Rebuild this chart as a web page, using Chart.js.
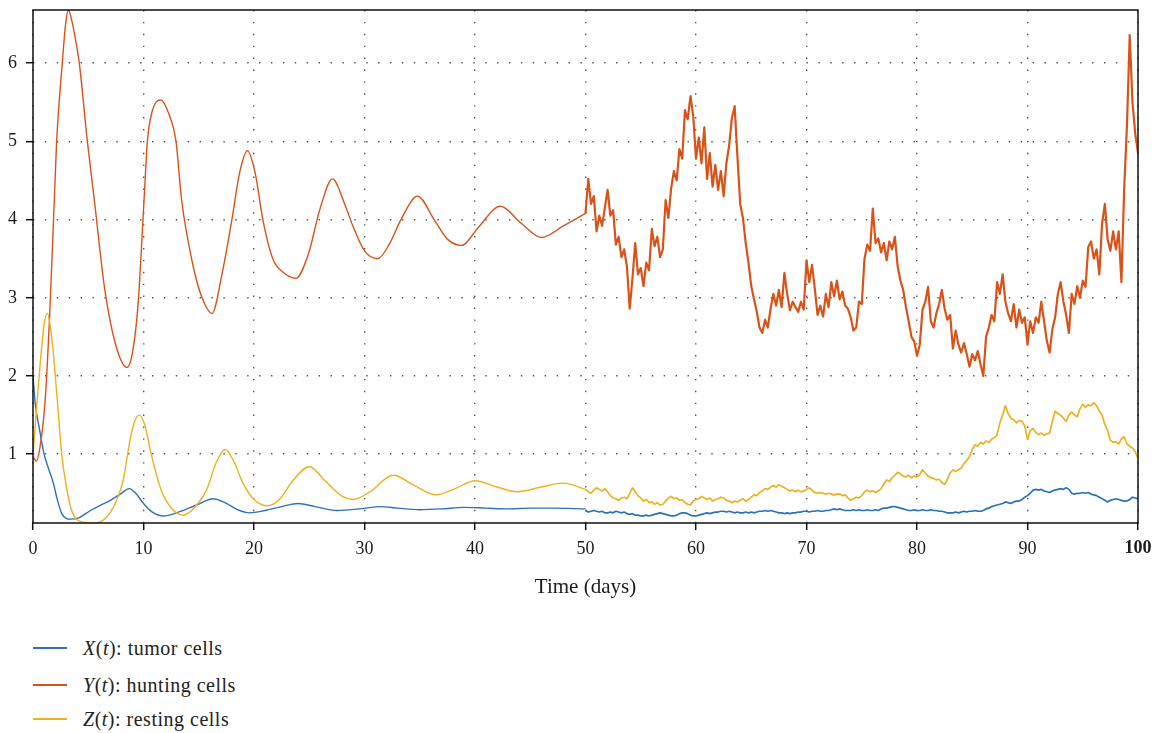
<!DOCTYPE html>
<html>
<head>
<meta charset="utf-8">
<script src="https://cdn.jsdelivr.net/npm/chart.js@4.4.1/dist/chart.umd.min.js"></script>
<style>
  html, body { margin: 0; padding: 0; background: #fff; }
  #wrap { position: relative; width: 1159px; height: 733px; overflow: hidden; }
  #plot { position: absolute; left: 0; top: 0; }
  .leg { position: absolute; left: 0; height: 24px; line-height: 24px;
         font-family: "Liberation Serif", serif; font-size: 20px; letter-spacing: 0.5px; color: #222; }
  .leg .sw { position: absolute; left: 33px; top: 11px; width: 34px; height: 1.5px; }
  .leg .tx { position: absolute; left: 83px; top: 0; white-space: nowrap; }
</style>
</head>
<body>
<div id="wrap">
  <canvas id="plot" width="1159" height="600"></canvas>
  <div class="leg" style="top:636px"><span class="sw" style="background:#2C72BA"></span><span class="tx"><i>X</i>(<i>t</i>): tumor cells</span></div>
  <div class="leg" style="top:673px"><span class="sw" style="background:#D95319"></span><span class="tx"><i>Y</i>(<i>t</i>): hunting cells</span></div>
  <div class="leg" style="top:707px"><span class="sw" style="background:#EDB120"></span><span class="tx"><i>Z</i>(<i>t</i>): resting cells</span></div>
</div>
<script>
// Deterministic phase (days 0-50): sample times and values per population
const tX = [0,0.2,0.6,1.0,1.4,1.84,2.2,2.6,3.0,3.4,4.2,5.2,6.0,7.0,8.0,8.7,9.3,10.0,10.8,11.8,
            13.0,14.8,16.3,17.5,18.5,19.6,21.0,22.5,24.0,25.5,27.5,29.5,31.5,33.0,35.0,37.0,39.0,41.0,43.0,45.0,47.0,50.0];
const X  = [2.0,1.65,1.31,1.0,0.82,0.63,0.42,0.24,0.18,0.17,0.19,0.28,0.34,0.41,0.5,0.56,0.5,0.37,0.26,0.21,
            0.25,0.35,0.43,0.37,0.29,0.25,0.28,0.33,0.37,0.33,0.28,0.30,0.33,0.31,0.29,0.30,0.32,0.31,0.30,0.31,0.31,0.30];

const tY = [0,0.3,0.7,1.1,1.5,1.93,2.14,2.65,2.95,3.2,3.5,3.85,4.19,4.92,5.55,6.5,7.5,8.5,9.0,9.5,
            10.05,10.35,10.74,11.55,12.3,12.94,13.45,14.5,15.3,16.2,17.1,18.0,18.7,19.4,20.1,20.8,21.7,22.6,23.8,24.9,
            26.0,27.1,28.2,29.0,30.0,31.2,32.3,33.3,34.8,36.3,37.5,38.8,40.3,42.3,44.2,46.0,48.0,50.0];
const Y  = [0.97,0.91,1.15,1.69,2.75,4.25,5.0,6.0,6.5,6.68,6.55,6.3,6.0,5.0,4.25,3.1,2.39,2.11,2.3,2.9,
            4.25,5.0,5.36,5.53,5.35,5.0,4.25,3.4,3.0,2.8,3.3,4.0,4.6,4.88,4.6,4.0,3.5,3.33,3.25,3.55,
            4.15,4.52,4.2,3.9,3.6,3.5,3.7,4.0,4.3,4.0,3.75,3.67,3.9,4.17,3.95,3.77,3.92,4.08];

const tZ = [0,0.5,1.0,1.3,1.6,1.9,2.2,2.6,3.0,3.5,4.55,5.5,6.3,6.97,7.6,8.17,8.78,9.2,9.62,10.1,
            10.7,11.6,12.6,13.6,14.7,15.7,16.6,17.4,18.2,19.0,20.0,21.2,22.3,23.5,25.0,26.5,28.0,29.0,30.5,32.6,
            34.5,36.5,38.2,40.0,42.0,43.8,46.0,48.0,50.0];
const Z  = [1.0,1.9,2.65,2.8,2.6,2.2,1.69,1.0,0.6,0.28,0.13,0.12,0.15,0.25,0.42,0.67,1.18,1.42,1.50,1.38,
            1.0,0.54,0.3,0.22,0.33,0.54,0.9,1.06,0.9,0.63,0.42,0.34,0.42,0.66,0.84,0.65,0.46,0.42,0.52,0.73,
            0.6,0.48,0.56,0.66,0.58,0.52,0.58,0.63,0.55];

// Stochastic phase (days 50-100), sampled every quarter day; one row per five days
const noiseStart = 50, noiseStep = 0.25;
const Xs = [
  0.28,0.26,0.27,0.28, 0.27,0.26,0.27,0.25, 0.25,0.26,0.25,0.27, 0.26,0.25,0.26,0.24, 0.23,0.24,0.22,0.22,
  0.21,0.21,0.22,0.21, 0.22,0.23,0.24,0.25, 0.24,0.23,0.22,0.21, 0.21,0.22,0.24,0.25, 0.25,0.24,0.22,0.21,
  0.21,0.22,0.23,0.24, 0.25,0.24,0.25,0.26, 0.26,0.27,0.27,0.26, 0.27,0.26,0.25,0.26, 0.25,0.25,0.26,0.25,
  0.26,0.25,0.26,0.27, 0.27,0.28,0.27,0.28, 0.27,0.26,0.25,0.25, 0.24,0.25,0.24,0.25, 0.25,0.26,0.26,0.27,
  0.27,0.26,0.27,0.27, 0.28,0.27,0.27,0.28, 0.28,0.29,0.30,0.29, 0.30,0.29,0.28,0.28, 0.28,0.29,0.28,0.29,
  0.28,0.28,0.29,0.28, 0.28,0.29,0.28,0.30, 0.31,0.31,0.32,0.33, 0.33,0.32,0.31,0.30, 0.29,0.28,0.28,0.29,
  0.28,0.28,0.29,0.28, 0.28,0.29,0.28,0.28, 0.27,0.27,0.26,0.25, 0.25,0.25,0.26,0.25, 0.26,0.27,0.26,0.27,
  0.27,0.28,0.27,0.27, 0.28,0.30,0.31,0.33, 0.34,0.35,0.36,0.37, 0.39,0.38,0.37,0.39, 0.40,0.40,0.42,0.45,
  0.47,0.50,0.54,0.55, 0.54,0.55,0.53,0.52, 0.51,0.53,0.54,0.55, 0.56,0.55,0.57,0.55, 0.50,0.49,0.50,0.50,
  0.51,0.50,0.51,0.49, 0.48,0.47,0.45,0.43, 0.41,0.39,0.41,0.42, 0.43,0.42,0.41,0.40, 0.40,0.42,0.45,0.44,
  0.43
];
const Ys = [
  4.08,4.52,4.20,4.30, 3.85,4.05,3.92,4.15, 4.38,4.05,4.12,3.68, 3.78,3.52,3.62,3.40, 2.86,3.25,3.70,3.30,
  3.38,3.15,3.45,3.35, 3.88,3.66,3.78,3.52, 3.62,4.25,4.02,4.40, 4.62,4.50,4.90,4.78, 5.40,5.28,5.58,5.32,
  4.78,5.05,4.72,5.18, 4.52,4.85,4.42,4.70, 4.38,4.62,4.30,4.72, 4.95,5.30,5.45,4.80, 4.20,4.02,3.70,3.45,
  3.15,2.98,2.82,2.62, 2.55,2.72,2.62,2.86, 3.05,2.90,3.10,2.88, 3.32,3.05,2.84,2.95, 2.88,2.82,2.95,2.85,
  3.48,3.20,3.42,3.12, 2.78,2.90,2.76,3.05, 2.88,3.20,3.02,3.22, 2.98,3.08,2.90,2.86, 2.75,2.58,2.62,2.95,
  2.92,3.50,3.68,3.60, 4.14,3.70,3.76,3.58, 3.70,3.48,3.72,3.62, 3.78,3.40,3.22,3.10, 2.88,2.70,2.50,2.44,
  2.26,2.40,2.85,2.95, 3.14,2.70,2.62,2.80, 2.92,3.10,2.86,2.72, 2.78,2.35,2.58,2.40, 2.30,2.42,2.28,2.12,
  2.28,2.20,2.32,2.15, 2.00,2.50,2.62,2.78, 2.70,3.20,3.05,3.30, 2.95,2.80,2.70,2.92, 2.62,2.85,2.68,2.75,
  2.40,2.70,2.55,2.75, 2.68,2.95,2.70,2.45, 2.30,2.60,2.75,3.05, 3.20,2.95,2.78,2.55, 3.05,2.92,3.15,3.00,
  3.22,3.14,3.65,3.72, 3.50,3.62,3.30,3.95, 4.20,3.75,3.60,3.85, 3.62,3.85,3.20,4.40, 5.20,6.36,5.50,5.10,
  4.85
];
const Zs = [
  0.55,0.52,0.50,0.54, 0.57,0.55,0.53,0.56, 0.52,0.47,0.44,0.43, 0.41,0.44,0.45,0.43, 0.50,0.57,0.52,0.47,
  0.44,0.40,0.42,0.38, 0.39,0.36,0.38,0.35, 0.36,0.40,0.44,0.46, 0.43,0.44,0.41,0.42, 0.38,0.36,0.35,0.40,
  0.42,0.43,0.46,0.44, 0.42,0.44,0.40,0.42, 0.43,0.45,0.44,0.41, 0.40,0.38,0.40,0.39, 0.41,0.43,0.40,0.42,
  0.45,0.48,0.47,0.51, 0.53,0.56,0.55,0.58, 0.60,0.58,0.61,0.59, 0.57,0.55,0.53,0.54, 0.52,0.54,0.52,0.53,
  0.55,0.57,0.54,0.51, 0.50,0.51,0.50,0.49, 0.50,0.49,0.48,0.49, 0.49,0.47,0.48,0.44, 0.41,0.43,0.45,0.44,
  0.47,0.52,0.54,0.52, 0.53,0.51,0.53,0.56, 0.62,0.67,0.65,0.70, 0.73,0.77,0.75,0.72, 0.71,0.73,0.70,0.72,
  0.71,0.74,0.80,0.76, 0.72,0.70,0.69,0.67, 0.68,0.64,0.61,0.68, 0.76,0.80,0.78,0.80, 0.82,0.88,0.92,0.97,
  1.06,1.12,1.10,1.15, 1.13,1.17,1.15,1.19, 1.21,1.25,1.40,1.50, 1.62,1.52,1.46,1.44, 1.40,1.43,1.42,1.36,
  1.19,1.30,1.33,1.28, 1.25,1.27,1.24,1.26, 1.27,1.42,1.55,1.52, 1.50,1.46,1.42,1.50, 1.54,1.50,1.48,1.58,
  1.64,1.60,1.63,1.62, 1.66,1.62,1.55,1.50, 1.38,1.30,1.18,1.15, 1.16,1.13,1.20,1.22, 1.13,1.10,1.08,1.03,
  0.95
];

// Axis ticks
const xTicks = [0,10,20,30,40,50,60,70,80,90,100];
const yTicks = [1,2,3,4,5,6];

const COLORS = { x: '#2C72BA', y: '#D95319', z: '#EDB120' };

const pair = (ts, vs) => ts.map((t, i) => ({ x: t, y: vs[i] }));
const tNoise = Ys.map((_, i) => noiseStart + i * noiseStep);

const smooth = (label, ts, vs, color, order) => ({
  label, data: pair(ts, vs), borderColor: color, borderWidth: 1.4,
  pointRadius: 0, fill: false, cubicInterpolationMode: 'monotone', order
});
const rough = (label, vs, color, width, order) => ({
  label, data: pair(tNoise, vs), borderColor: color, borderWidth: width,
  pointRadius: 0, fill: false, tension: 0, order, borderJoinStyle: 'round'
});

// Box around the plotting area
const framePlugin = {
  id: 'frame',
  afterDraw(chart) {
    const { ctx, chartArea: a } = chart;
    ctx.save();
    ctx.strokeStyle = '#111';
    ctx.lineWidth = 1.5;
    ctx.strokeRect(a.left, a.top, a.right - a.left, a.bottom - a.top);
    ctx.restore();
  }
};

Chart.defaults.font.family = '"Liberation Serif", "Times New Roman", serif';
Chart.defaults.color = '#222';

const gridStyle = { color: '#555', lineWidth: 1.4, tickLength: 7, tickColor: '#111', tickWidth: 1.5, tickBorderDash: [] };

new Chart(document.getElementById('plot'), {
  type: 'line',
  data: {
    datasets: [
      smooth('Z(t): resting cells', tZ, Z, COLORS.z, 0),
      rough('Z(t): resting cells', Zs, COLORS.z, 1.7, 0),
      smooth('Y(t): hunting cells', tY, Y, COLORS.y, 1),
      rough('Y(t): hunting cells', Ys, COLORS.y, 2.2, 1),
      smooth('X(t): tumor cells', tX, X, COLORS.x, 2),
      rough('X(t): tumor cells', Xs, COLORS.x, 1.7, 2)
    ]
  },
  options: {
    responsive: false,
    animation: false,
    devicePixelRatio: 1,
    layout: { padding: { left: 0, right: 21, top: 10, bottom: 0 } },
    plugins: { legend: { display: false }, tooltip: { enabled: false } },
    scales: {
      x: {
        type: 'linear', min: 0, max: 100,
        afterBuildTicks: s => { s.ticks = xTicks.map(v => ({ value: v })); },
        afterFit: s => { s.height = 600 - 523; s.paddingLeft = 0; s.paddingRight = 0; },
        ticks: {
          padding: 8,
          font: ctx => ({ size: 18, weight: ctx.tick && ctx.tick.value === 100 ? 'bold' : 'normal' }),
          color: '#1a1a1a'
        },
        grid: gridStyle,
        border: { display: false, dash: [1.4, 10.5] },
        title: { display: true, text: 'Time (days)', font: { size: 21, lineHeight: 1.2 }, padding: { top: 0, bottom: 0 }, color: '#1a1a1a' }
      },
      y: {
        type: 'linear', min: 0.12, max: 6.68,
        afterBuildTicks: s => { s.ticks = yTicks.map(v => ({ value: v })); },
        afterFit: s => { s.width = 33; s.paddingTop = 0; s.paddingBottom = 0; },
        ticks: { padding: 9, font: { size: 18 }, color: '#1a1a1a' },
        grid: gridStyle,
        border: { display: false, dash: [1.4, 10.5] }
      }
    }
  },
  plugins: [framePlugin]
});
</script>
</body>
</html>
